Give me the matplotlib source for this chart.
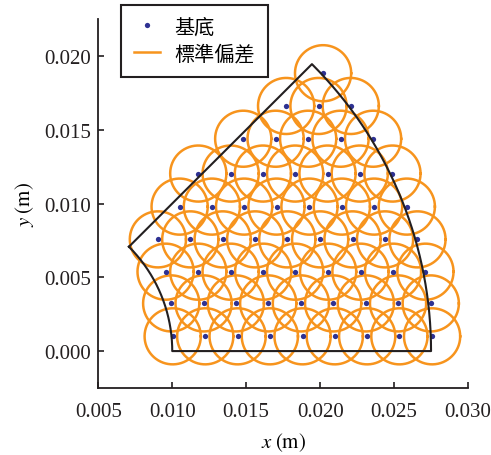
import numpy as np
import matplotlib
matplotlib.use('Agg')
import matplotlib.pyplot as plt

plt.rcParams['font.family'] = ['Liberation Serif', 'Noto Sans CJK TC']
plt.rcParams['mathtext.fontset'] = 'stix'
plt.rcParams['font.size'] = 15

# basis point rows (y of each row, x of points in it)
row_y = [0.00100, 0.00323, 0.00538, 0.00757, 0.00979,
         0.01203, 0.01439, 0.01661, 0.01883]
row_x = [
    [0.01003, 0.01223, 0.01442, 0.01660, 0.01881, 0.02099, 0.02318, 0.02536, 0.02757],
    [0.00993, 0.01212, 0.01430, 0.01649, 0.01870, 0.02088, 0.02309, 0.02527, 0.02748],
    [0.00955, 0.01176, 0.01395, 0.01615, 0.01831, 0.02054, 0.02273, 0.02493, 0.02712],
    [0.00903, 0.01122, 0.01341, 0.01561, 0.01778, 0.02000, 0.02219, 0.02439, 0.02658],
    [0.01050, 0.01268, 0.01486, 0.01705, 0.01928, 0.02147, 0.02365, 0.02586],
    [0.01176, 0.01395, 0.01613, 0.01831, 0.02050, 0.02268, 0.02489],
    [0.01480, 0.01699, 0.01919, 0.02138, 0.02358],
    [0.01770, 0.01989, 0.02207],
    [0.02020],
]
sigma = 0.0019  # standard deviation radius

# domain: annular sector
r_inner = 0.010
r_outer = 0.0275
theta_max = 45.0

orange = '#F7941D'
navy = '#2E3192'

px = np.concatenate([np.array(xs) for xs in row_x])
py = np.concatenate([np.full(len(xs), y) for xs, y in zip(row_x, row_y)])

fig = plt.figure(figsize=(4.91, 4.56), dpi=100)
ax = fig.add_axes([0.2002, 0.147, 0.753, 0.809])

t = np.linspace(0, 2 * np.pi, 200)
for i, (cx, cy) in enumerate(zip(px, py)):
    ax.plot(cx + sigma * np.cos(t), cy + sigma * np.sin(t), color=orange,
            lw=1.8, label=u'標準偏差' if i == 0 else None, zorder=2)

ax.plot(px, py, 'o', color=navy, ms=3.8, mew=0, label=u'基底', zorder=3)

# boundary
a = np.radians(np.linspace(theta_max, 0, 100))
b = np.radians(np.linspace(0, theta_max, 200))
bx = np.concatenate([r_inner * np.cos(a), r_outer * np.cos(b), [r_inner * np.cos(a[0])]])
by = np.concatenate([r_inner * np.sin(a), r_outer * np.sin(b), [r_inner * np.sin(a[0])]])
ax.plot(bx, by, color='#231F20', lw=1.5, zorder=4)

ax.set_xlim(0.005, 0.030)
ax.set_ylim(-0.0025, 0.0225)
ax.set_xticks([0.005, 0.010, 0.015, 0.020, 0.025, 0.030])
ax.set_yticks([0.000, 0.005, 0.010, 0.015, 0.020])
ax.xaxis.set_major_formatter(matplotlib.ticker.FormatStrFormatter('%.3f'))
ax.yaxis.set_major_formatter(matplotlib.ticker.FormatStrFormatter('%.3f'))
ax.spines['top'].set_visible(False)
ax.spines['right'].set_visible(False)
for s in ['left', 'bottom']:
    ax.spines[s].set_linewidth(1.3)
    ax.spines[s].set_color('#231F20')
ax.tick_params(direction='in', length=4, width=1.2, colors='#231F20')
ax.tick_params(axis='x', pad=10)
ax.tick_params(axis='y', pad=5)

ax.set_xlabel(r'$x\;(\mathrm{m})$', labelpad=7)
ax.set_ylabel(r'$y\;(\mathrm{m})$', labelpad=6)

h, l = ax.get_legend_handles_labels()
leg = ax.legend([h[1], h[0]], [l[1], l[0]], loc='upper left',
                bbox_to_anchor=(0.2464, 0.987), bbox_transform=fig.transFigure,
                borderaxespad=0, fontsize=14.5,
                numpoints=1, handlelength=1.3, handletextpad=0.7,
                borderpad=0.65, labelspacing=0.35, fancybox=False,
                framealpha=1, edgecolor='#231F20')
leg.get_frame().set_linewidth(1.5)

fig.savefig('out.png', dpi=100)
